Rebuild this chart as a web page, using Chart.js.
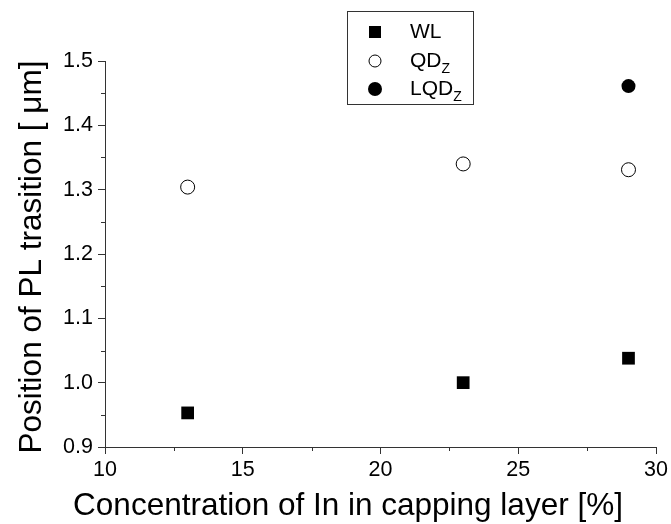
<!DOCTYPE html>
<html>
<head>
<meta charset="utf-8">
<script src="https://cdn.jsdelivr.net/npm/chart.js@4.4.1/dist/chart.umd.min.js"></script>
<style>
  body { margin: 0; background: #fff; }
</style>
</head>
<body>
<canvas id="plChart" width="671" height="524"></canvas>
<script>
// values
const capping = [13, 23, 29];
const wlPos = [0.953, 1.0, 1.038];
const qdPos = [1.304, 1.34, 1.331];
const lqdCapping = [29];
const lqdPos = [1.461];
const xTicks = [10, 15, 20, 25, 30];
const yTicks = [0.9, 1.0, 1.1, 1.2, 1.3, 1.4, 1.5];
const xMinor = [12.5, 17.5, 22.5, 27.5];
const yMinor = [0.95, 1.05, 1.15, 1.25, 1.35, 1.45];

const FONT = "'Liberation Sans', Arial, sans-serif";
const AXIS = '#333';

const toPts = (xs, ys) => xs.map((x, i) => ({ x, y: ys[i] }));

// titles + minor ticks + legend box (subscripts need manual text)
const extras = {
    id: 'extras',
    afterDraw(chart) {
        const { ctx, chartArea: a, scales } = chart;
        ctx.save();
        ctx.strokeStyle = AXIS;
        ctx.lineWidth = 1;
        ctx.beginPath();
        xMinor.forEach(v => {
            const px = Math.round(scales.x.getPixelForValue(v)) + 0.5;
            ctx.moveTo(px, a.bottom);
            ctx.lineTo(px, a.bottom + 4);
        });
        yMinor.forEach(v => {
            const py = Math.round(scales.y.getPixelForValue(v)) + 0.5;
            ctx.moveTo(a.left - 4, py);
            ctx.lineTo(a.left, py);
        });
        ctx.stroke();

        // axis titles
        ctx.fillStyle = '#000';
        ctx.font = `31.5px ${FONT}`;
        ctx.textAlign = 'center';
        ctx.textBaseline = 'alphabetic';
        ctx.fillText('Concentration of In in capping layer [%]', 348, 515);
        ctx.save();
        ctx.translate(41, 257);
        ctx.rotate(-Math.PI / 2);
        ctx.fillText('Position of PL trasition [ \u03bcm]', 0, 0);
        ctx.restore();

        // legend
        ctx.strokeRect(347.5, 11.5, 126, 93);
        const rows = [
            { label: 'WL', sub: '', y: 32, kind: 'rect' },
            { label: 'QD', sub: 'Z', y: 61, kind: 'open' },
            { label: 'LQD', sub: 'Z', y: 89, kind: 'dot' },
        ];
        rows.forEach(r => {
            ctx.fillStyle = '#000';
            ctx.strokeStyle = '#000';
            if (r.kind === 'rect') {
                ctx.fillRect(369, r.y - 6, 12, 12);
            } else {
                ctx.beginPath();
                ctx.arc(375, r.y, r.kind === 'dot' ? 7 : 6, 0, Math.PI * 2);
                if (r.kind === 'dot') ctx.fill();
                else { ctx.fillStyle = '#fff'; ctx.fill(); ctx.stroke(); }
            }
            ctx.fillStyle = '#000';
            ctx.textAlign = 'left';
            ctx.textBaseline = 'middle';
            ctx.font = `21px ${FONT}`;
            ctx.fillText(r.label, 410, r.y);
            if (r.sub) {
                const w = ctx.measureText(r.label).width;
                ctx.font = `14px ${FONT}`;
                ctx.fillText(r.sub, 410 + w, r.y + 8);
            }
        });
        ctx.restore();
    }
};

const ctx = document.getElementById('plChart').getContext('2d');
new Chart(ctx, {
    type: 'scatter',
    data: {
        datasets: [{
            label: 'WL',
            data: toPts(capping, wlPos),
            pointStyle: 'rect',
            pointRadius: 9,
            backgroundColor: '#000',
            borderColor: '#000',
            borderWidth: 0,
        }, {
            label: 'QDz',
            data: toPts(capping, qdPos),
            pointStyle: 'circle',
            pointRadius: 7,
            backgroundColor: '#fff',
            borderColor: '#000',
            borderWidth: 1,
        }, {
            label: 'LQDz',
            data: toPts(lqdCapping, lqdPos),
            pointStyle: 'circle',
            pointRadius: 7,
            backgroundColor: '#000',
            borderColor: '#000',
            borderWidth: 0,
        }]
    },
    options: {
        responsive: false,
        animation: false,
        clip: false,
        layout: { padding: { top: 61, right: 14, left: 0, bottom: 0 } },
        plugins: { legend: { display: false }, tooltip: { enabled: false } },
        scales: {
            x: {
                type: 'linear',
                min: 10,
                max: 30,
                afterBuildTicks: s => { s.ticks = xTicks.map(v => ({ value: v })); },
                afterFit: s => { s.height = 77; },
                grid: { drawOnChartArea: false, tickLength: 7, color: AXIS },
                border: { color: AXIS },
                ticks: { color: '#000', font: { family: FONT, size: 21.5 }, padding: 3, maxRotation: 0 },
            },
            y: {
                min: 0.9,
                max: 1.5,
                afterBuildTicks: s => { s.ticks = yTicks.map(v => ({ value: v })); },
                afterFit: s => { s.width = 105; },
                grid: { drawOnChartArea: false, tickLength: 7, color: AXIS },
                border: { color: AXIS },
                ticks: {
                    color: '#000',
                    font: { family: FONT, size: 21.5 },
                    padding: 5,
                    callback: v => v.toFixed(1),
                },
            }
        }
    },
    plugins: [extras]
});
</script>
</body>
</html>
